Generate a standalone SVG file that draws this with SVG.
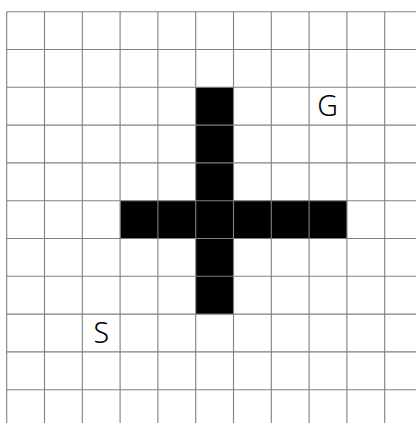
<svg xmlns="http://www.w3.org/2000/svg" width="416" height="423" viewBox="0 0 416 423">
<style>
.wall{fill:#000}
.grid line{stroke:#808080;stroke-width:1.1}
.lbl{font-family:"Noto Sans","DejaVu Sans",sans-serif;font-weight:300;font-size:28.5px;fill:#000;text-anchor:middle}
</style>
<rect width="416" height="423" fill="#fff"/>
<g id="walls">
<rect class="wall" x="196" y="87.3" width="37.8" height="226.8"/>
<rect class="wall" x="120.3" y="200.7" width="226.8" height="37.8"/>
</g>
<g class="grid">
<line x1="6.7" y1="11.7" x2="6.7" y2="423"/>
<line x1="44.5" y1="11.7" x2="44.5" y2="423"/>
<line x1="82.3" y1="11.7" x2="82.3" y2="423"/>
<line x1="120.1" y1="11.7" x2="120.1" y2="423"/>
<line x1="157.9" y1="11.7" x2="157.9" y2="423"/>
<line x1="195.7" y1="11.7" x2="195.7" y2="423"/>
<line x1="233.5" y1="11.7" x2="233.5" y2="423"/>
<line x1="271.3" y1="11.7" x2="271.3" y2="423"/>
<line x1="309.1" y1="11.7" x2="309.1" y2="423"/>
<line x1="346.9" y1="11.7" x2="346.9" y2="423"/>
<line x1="384.7" y1="11.7" x2="384.7" y2="423"/>
<line x1="6.7" y1="11.7" x2="416" y2="11.7"/>
<line x1="6.7" y1="49.5" x2="416" y2="49.5"/>
<line x1="6.7" y1="87.3" x2="416" y2="87.3"/>
<line x1="6.7" y1="125.1" x2="416" y2="125.1"/>
<line x1="6.7" y1="162.9" x2="416" y2="162.9"/>
<line x1="6.7" y1="200.7" x2="416" y2="200.7"/>
<line x1="6.7" y1="238.5" x2="416" y2="238.5"/>
<line x1="6.7" y1="276.3" x2="416" y2="276.3"/>
<line x1="6.7" y1="314.1" x2="416" y2="314.1"/>
<line x1="6.7" y1="351.9" x2="416" y2="351.9"/>
<line x1="6.7" y1="389.7" x2="416" y2="389.7"/>
</g>
<g id="start"><text class="lbl" x="101.3" y="343.3">S</text></g>
<g id="goal"><text class="lbl" x="327.5" y="116.3">G</text></g>
</svg>
